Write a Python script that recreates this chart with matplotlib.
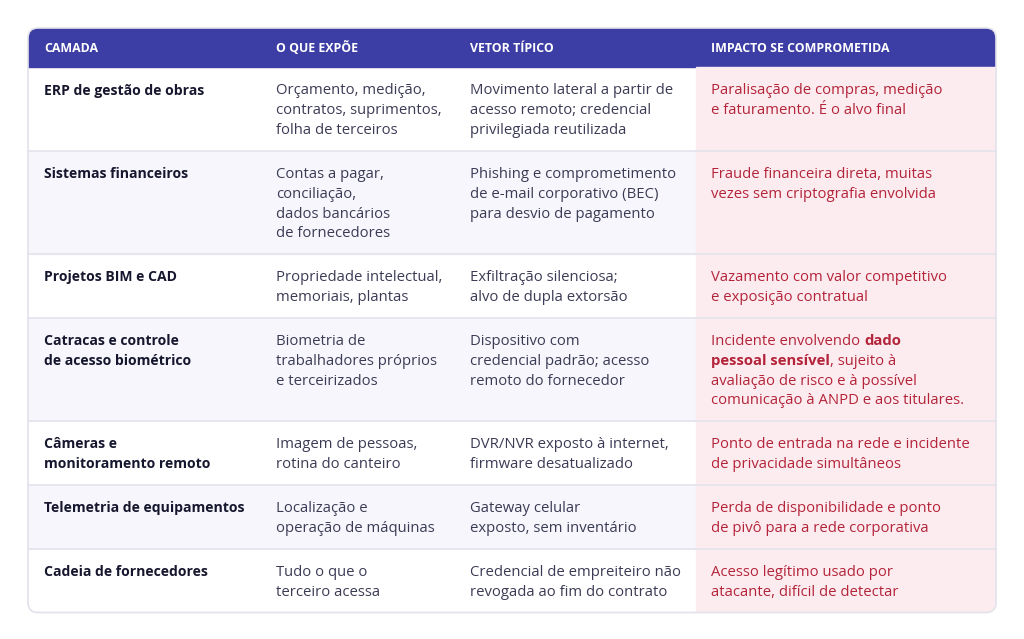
import matplotlib
matplotlib.use("Agg")
import matplotlib.pyplot as plt
from matplotlib.patches import Rectangle, FancyBboxPatch

plt.rcParams['font.family'] = ['Open Sans', 'DejaVu Sans']

headers = ["CAMADA", "O QUE EXPÕE", "VETOR TÍPICO", "IMPACTO SE COMPROMETIDA"]

camada = [
    ["ERP de gestão de obras"],
    ["Sistemas financeiros"],
    ["Projetos BIM e CAD"],
    ["Catracas e controle", "de acesso biométrico"],
    ["Câmeras e", "monitoramento remoto"],
    ["Telemetria de equipamentos"],
    ["Cadeia de fornecedores"],
]
expoe = [
    ["Orçamento, medição,", "contratos, suprimentos,", "folha de terceiros"],
    ["Contas a pagar,", "conciliação,", "dados bancários", "de fornecedores"],
    ["Propriedade intelectual,", "memoriais, plantas"],
    ["Biometria de", "trabalhadores próprios", "e terceirizados"],
    ["Imagem de pessoas,", "rotina do canteiro"],
    ["Localização e", "operação de máquinas"],
    ["Tudo o que o", "terceiro acessa"],
]
vetor = [
    ["Movimento lateral a partir de", "acesso remoto; credencial", "privilegiada reutilizada"],
    ["Phishing e comprometimento", "de e-mail corporativo (BEC)", "para desvio de pagamento"],
    ["Exfiltração silenciosa;", "alvo de dupla extorsão"],
    ["Dispositivo com", "credencial padrão; acesso", "remoto do fornecedor"],
    ["DVR/NVR exposto à internet,", "firmware desatualizado"],
    ["Gateway celular", "exposto, sem inventário"],
    ["Credencial de empreiteiro não", "revogada ao fim do contrato"],
]
impacto = [
    ["Paralisação de compras, medição", "e faturamento. É o alvo final"],
    ["Fraude financeira direta, muitas", "vezes sem criptografia envolvida"],
    ["Vazamento com valor competitivo", "e exposição contratual"],
    ["Incidente envolvendo **dado", "pessoal sensível**, sujeito à",
     "avaliação de risco e à possível", "comunicação à ANPD e aos titulares."],
    ["Ponto de entrada na rede e incidente", "de privacidade simultâneos"],
    ["Perda de disponibilidade e ponto", "de pivô para a rede corporativa"],
    ["Acesso legítimo usado por", "atacante, difícil de detectar"],
]

W, H = 1024, 639
fig = plt.figure(figsize=(W / 100, H / 100), dpi=100)
ax = fig.add_axes([0, 0, 1, 1])
ax.set_xlim(0, W)
ax.set_ylim(H, 0)
ax.axis("off")

left, right, top = 28, 996, 28
head_h = 39
line_h = 19.8
col_x = [44, 276, 470, 711]
pink_x = 696

HEAD_BG = "#3d3da6"
ALT_BG = "#f6f6fc"
PINK_BG = "#fdecef"
SEP = "#e3e3ec"
TXT = "#3b3b55"
TXT_B = "#16162e"
RED = "#b3243a"
FS = 10.7
FS_B = 10.1

# row heights from line counts
tops = [top + head_h]
for i in range(len(camada)):
    n = max(len(camada[i]), len(expoe[i]), len(vetor[i]), len(impacto[i]))
    tops.append(tops[-1] + n * 19.5 + 25)
bottom = tops[-1]

clip = FancyBboxPatch((left, top), right - left, bottom - top,
                      boxstyle="round,pad=0,rounding_size=10",
                      facecolor="white", edgecolor="none", zorder=0)
ax.add_patch(clip)

def clipped(p):
    ax.add_patch(p)
    p.set_clip_path(clip)

clipped(Rectangle((left, top), right - left, head_h, color=HEAD_BG, zorder=1))
for i in range(len(camada)):
    y0, y1 = tops[i], tops[i + 1]
    if i % 2 == 1:
        clipped(Rectangle((left, y0), right - left, y1 - y0, color=ALT_BG, zorder=1))
    clipped(Rectangle((pink_x, y0), right - pink_x, y1 - y0, color=PINK_BG, zorder=1.5))
    if i > 0:
        ax.plot([left, right], [y0, y0], color=SEP, lw=1.2, zorder=2)

border = FancyBboxPatch((left, top), right - left, bottom - top,
                        boxstyle="round,pad=0,rounding_size=10",
                        facecolor="none", edgecolor="#e2e2ea", lw=1.2, zorder=3)
ax.add_patch(border)

for x, h in zip(col_x, headers):
    ax.text(x, top + head_h / 2 + 0.5, h, color="white", fontsize=8.9,
            fontweight="bold", va="center", ha="left", zorder=4)

fig.canvas.draw()
renderer = fig.canvas.get_renderer()

def rich_line(x, y, s, color, bold_state):
    # draws a line where ** toggles bold, returns bold state at end
    parts = s.split("**")
    for k, part in enumerate(parts):
        if k > 0:
            bold_state = not bold_state
        if not part:
            continue
        t = ax.text(x, y, part, color=color, fontsize=FS, va="baseline", ha="left",
                    fontweight="bold" if bold_state else "normal", zorder=4)
        bb = t.get_window_extent(renderer=renderer)
        x = x + bb.width
    return bold_state

for i in range(len(camada)):
    base = tops[i] + 27.5
    for c, (lines, color, weight) in enumerate([
            (camada[i], TXT_B, "bold"), (expoe[i], TXT, "normal"),
            (vetor[i], TXT, "normal"), (impacto[i], RED, "normal")]):
        bold = False
        for j, ln in enumerate(lines):
            y = base + j * line_h
            if c == 3:
                bold = rich_line(col_x[c], y, ln, color, bold)
            else:
                ax.text(col_x[c], y, ln, color=color,
                        fontsize=FS_B if c == 0 else FS, fontweight=weight,
                        va="baseline", ha="left", zorder=4)

fig.savefig("out.png", dpi=100)
